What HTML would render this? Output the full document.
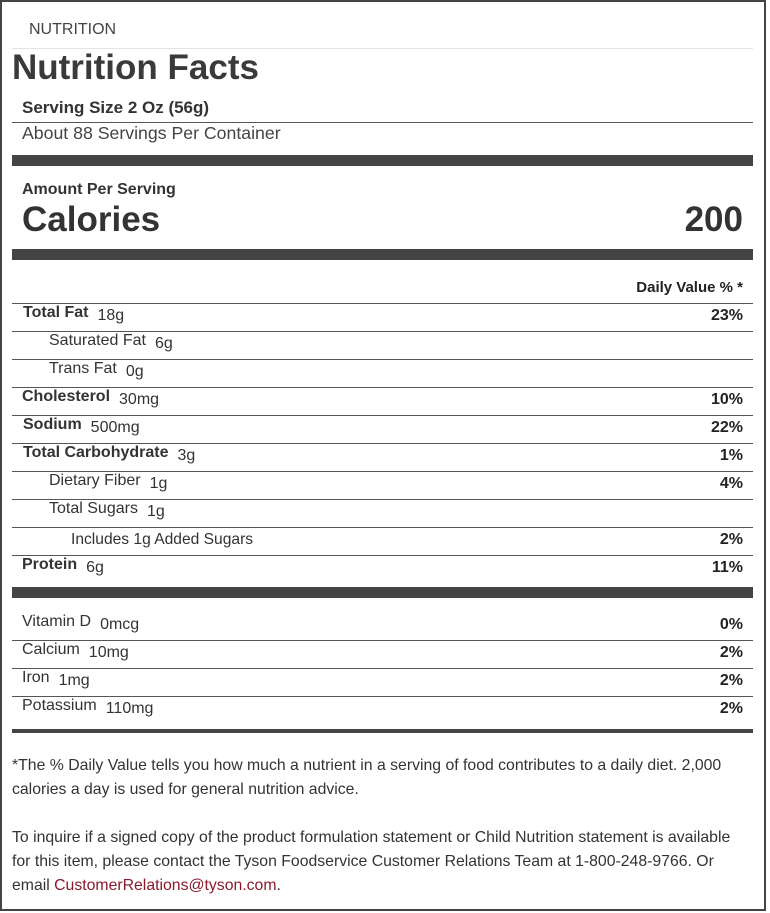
<!DOCTYPE html><html><head><style>
body{margin:0;width:770px;height:913px;background:#fff;position:relative;font-family:"Liberation Sans",sans-serif;color:#333;overflow:hidden}
.b{position:absolute;left:0;top:0;width:762px;height:907px;border:2px solid #444}
.t{position:absolute;white-space:nowrap;line-height:1}
.l{position:absolute;left:12px;width:741px;height:1px;background:#555}
.k{position:absolute;left:12px;width:741px;height:11px;background:#444}
.r{position:absolute;right:27px;font-weight:bold;font-size:16px;line-height:1;color:#222}
.v{font-size:16px;margin-left:9px;position:relative;top:3px;font-weight:normal}
.bd{font-weight:bold;font-size:16px}
.n{font-size:16px}
</style></head><body>
<div class="b"></div>
<div class="t" style="left:29px;top:22px;font-size:16px;color:#444">NUTRITION</div>
<div class="l" style="top:48px;background:#e3e3e3"></div>
<div class="t" style="left:12px;top:50px;font-size:35px;font-weight:bold;color:#3a3a3a">Nutrition Facts</div>
<div class="t" style="left:22px;top:99px;font-size:17px;font-weight:bold">Serving Size 2 Oz (56g)</div>
<div class="l" style="top:122px"></div>
<div class="t" style="left:22px;top:125px;font-size:17.7px;color:#444">About 88 Servings Per Container</div>
<div class="k" style="top:155px"></div>
<div class="t" style="left:22px;top:182px;font-size:16px;font-weight:bold">Amount Per Serving</div>
<div class="t" style="left:22px;top:202px;font-size:35px;font-weight:bold">Calories</div>
<div class="t" style="right:27px;top:202px;font-size:35px;font-weight:bold">200</div>
<div class="k" style="top:249px"></div>
<div class="r" style="top:280px;font-size:15px">Daily Value % *</div>

<div class="l" style="top:303px"></div>
<div class="t bd" style="left:23px;top:305px">Total Fat<span class="v">18g</span></div><div class="r" style="top:308px">23%</div>
<div class="l" style="top:331px"></div>
<div class="t n" style="left:49px;top:333px">Saturated Fat<span class="v">6g</span></div>
<div class="l" style="top:359px"></div>
<div class="t n" style="left:49px;top:361px">Trans Fat<span class="v">0g</span></div>
<div class="l" style="top:387px"></div>
<div class="t bd" style="left:22px;top:389px">Cholesterol<span class="v">30mg</span></div><div class="r" style="top:392px">10%</div>
<div class="l" style="top:415px"></div>
<div class="t bd" style="left:23px;top:417px">Sodium<span class="v">500mg</span></div><div class="r" style="top:420px">22%</div>
<div class="l" style="top:443px"></div>
<div class="t bd" style="left:23px;top:445px">Total Carbohydrate<span class="v">3g</span></div><div class="r" style="top:448px">1%</div>
<div class="l" style="top:471px"></div>
<div class="t n" style="left:49px;top:473px">Dietary Fiber<span class="v">1g</span></div><div class="r" style="top:476px">4%</div>
<div class="l" style="top:499px"></div>
<div class="t n" style="left:49px;top:501px">Total Sugars<span class="v">1g</span></div>
<div class="l" style="top:527px"></div>
<div class="t" style="left:71px;top:532px;font-size:15.6px">Includes 1g Added Sugars</div><div class="r" style="top:532px">2%</div>
<div class="l" style="top:555px"></div>
<div class="t bd" style="left:22px;top:557px">Protein<span class="v">6g</span></div><div class="r" style="top:560px">11%</div>
<div class="k" style="top:587px"></div>

<div class="t n" style="left:22px;top:614px">Vitamin D<span class="v">0mcg</span></div><div class="r" style="top:617px">0%</div>
<div class="l" style="top:640px"></div>
<div class="t n" style="left:22px;top:642px">Calcium<span class="v">10mg</span></div><div class="r" style="top:645px">2%</div>
<div class="l" style="top:668px"></div>
<div class="t n" style="left:22px;top:670px">Iron<span class="v">1mg</span></div><div class="r" style="top:673px">2%</div>
<div class="l" style="top:696px"></div>
<div class="t n" style="left:22px;top:698px">Potassium<span class="v">110mg</span></div><div class="r" style="top:701px">2%</div>
<div class="k" style="top:729px;height:4px"></div>

<div style="position:absolute;left:12px;top:754px;white-space:nowrap;font-size:15.8px;line-height:24px;color:#333">*The % Daily Value tells you how much a nutrient in a serving of food contributes to a daily diet. 2,000<br>calories a day is used for general nutrition advice.</div>
<div style="position:absolute;left:12px;top:826px;white-space:nowrap;font-size:15.8px;line-height:24px;color:#333">To inquire if a signed copy of the product formulation statement or Child Nutrition statement is available<br>for this item, please contact the Tyson Foodservice Customer Relations Team at 1-800-248-9766. Or<br>email <span style="color:#8a1a2a">CustomerRelations@tyson.com</span>.</div>
</body></html>
